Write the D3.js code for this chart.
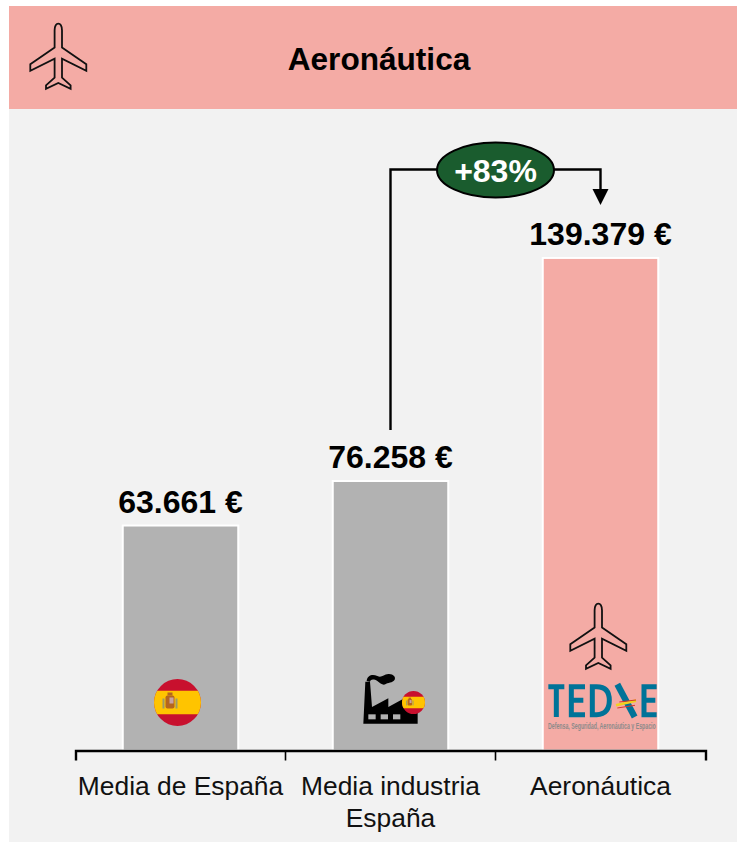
<!DOCTYPE html>
<html>
<head>
  <meta charset="utf-8">
  <title>Aeronáutica</title>
  <script src="https://d3js.org/d3.v7.min.js"></script>
  <style>
    html, body { margin: 0; padding: 0; background: #fff; }
    svg { display: block; font-family: "Liberation Sans", Arial, sans-serif; }
  </style>
</head>
<body>
  <svg id="chart"></svg>
  <script>
    var titleText = "Aeronáutica";
    var categories = ["Media de España", "Media industria España", "Aeronáutica"];
    var categoryLines = [["Media de España"], ["Media industria", "España"], ["Aeronáutica"]];
    var values = [63661, 76258, 139379];
    var valueLabels = ["63.661 €", "76.258 €", "139.379 €"];
    var barColors = ["#b2b2b2", "#b2b2b2", "#f4aba5"];
    var growthLabel = "+83%";

    var width = 737, height = 842;
    var svg = d3.select("#chart").attr("width", width).attr("height", height);

    var x = d3.scaleBand().domain(categories).range([75.5, 705.5]).paddingInner(0.45).paddingOuter(0.225);
    var y = d3.scaleLinear().domain([0, 150000]).range([750.5, 220.4]);

    // panel and header
    svg.append("rect").attr("x", 9).attr("y", 6).attr("width", width - 9).attr("height", height - 6).attr("fill", "#f2f2f2");
    svg.append("rect").attr("x", 9).attr("y", 6).attr("width", width - 9).attr("height", 103).attr("fill", "#f4aba5");
    svg.append("text").attr("x", 379).attr("y", 70).attr("text-anchor", "middle")
      .attr("font-size", 31.6).attr("font-weight", "bold").attr("fill", "#000").text(titleText);

    // bars
    svg.selectAll("rect.bar").data(values).enter().append("rect")
      .attr("class", "bar")
      .attr("x", (d, i) => x(categories[i]))
      .attr("y", d => y(d))
      .attr("width", x.bandwidth())
      .attr("height", d => y(0) - y(d))
      .attr("fill", (d, i) => barColors[i])
      .attr("stroke", "#fff")
      .attr("stroke-width", 2);

    svg.selectAll("text.value").data(values).enter().append("text")
      .attr("class", "value")
      .attr("x", (d, i) => x(categories[i]) + x.bandwidth() / 2)
      .attr("y", d => y(d) - 13)
      .attr("text-anchor", "middle")
      .attr("font-size", 32)
      .attr("font-weight", "bold")
      .attr("fill", "#000")
      .text((d, i) => valueLabels[i]);

    // axis
    var axis = svg.append("g").attr("transform", "translate(0," + y(0) + ")")
      .call(d3.axisBottom(x).tickSizeInner(0).tickSizeOuter(10).tickFormat(""));
    axis.select(".domain").attr("stroke", "#000").attr("stroke-width", 2.4);
    axis.selectAll(".tick").remove();
    axis.selectAll("line.sep").data(categories.slice(1)).enter().append("line")
      .attr("class", "sep")
      .attr("x1", d => x(d) - x.step() * x.paddingInner() / 2)
      .attr("x2", d => x(d) - x.step() * x.paddingInner() / 2)
      .attr("y1", 0).attr("y2", 10)
      .attr("stroke", "#000").attr("stroke-width", 1.6);

    var labels = svg.selectAll("text.cat").data(categories).enter().append("text")
      .attr("class", "cat")
      .attr("text-anchor", "middle")
      .attr("font-size", 26.4)
      .attr("fill", "#111");
    labels.each(function (d, i) {
      d3.select(this).selectAll("tspan").data(categoryLines[i]).enter().append("tspan")
        .attr("x", x(d) + x.bandwidth() / 2)
        .attr("y", (t, j) => 795 + j * 32)
        .text(t => t);
    });

    // connector between bar 2 and bar 3
    var x2 = x(categories[1]) + x.bandwidth() / 2;
    var x3 = x(categories[2]) + x.bandwidth() / 2;
    var connY = 169.5;
    svg.append("path")
      .attr("d", "M" + x2 + ",430V" + connY + "H" + x3 + "V190")
      .attr("fill", "none").attr("stroke", "#000").attr("stroke-width", 2.4);
    svg.append("path")
      .attr("d", "M" + (x3 - 8) + ",189L" + (x3 + 8) + ",189L" + x3 + ",205Z")
      .attr("fill", "#000");
    svg.append("ellipse")
      .attr("cx", (x2 + x3) / 2).attr("cy", 170).attr("rx", 58.5).attr("ry", 27.5)
      .attr("fill", "#1a5c2e").attr("stroke", "#000").attr("stroke-width", 2);
    svg.append("text").attr("x", (x2 + x3) / 2).attr("y", 182).attr("text-anchor", "middle")
      .attr("font-size", 32).attr("font-weight", "bold").attr("fill", "#fff").text(growthLabel);

    // icons
    function plane(cx, top) {
      var half = [[3.7, 6.7], [3.7, 24], [28, 40.7], [28, 47.3], [3.7, 35], [3.7, 54], [12.3, 61.7], [12.3, 65.3], [0, 59.3]];
      var right = half.map(p => p.join(",")).join("L");
      var left = half.slice(0, -1).reverse().map(p => (-p[0]) + "," + p[1]).join("L");
      svg.append("path")
        .attr("transform", "translate(" + cx + "," + top + ")")
        .attr("d", "M-3.7,6.7C-3.7,2 -2,0 0,0C2,0 3.7,2 3.7,6.7L" + right + "L" + left + "Z")
        .attr("fill", "none").attr("stroke", "#111").attr("stroke-width", 1.8).attr("stroke-linejoin", "miter");
    }
    plane(58.3, 23.6);
    plane(598.3, 603.6);

    var defs = svg.append("defs");
    function flag(id, cx, cy, r) {
      defs.append("clipPath").attr("id", id).append("circle").attr("cx", cx).attr("cy", cy).attr("r", r);
      var g = svg.append("g").attr("clip-path", "url(#" + id + ")");
      g.append("rect").attr("x", cx - r).attr("y", cy - r).attr("width", 2 * r).attr("height", 2 * r).attr("fill", "#c8102e");
      g.append("rect").attr("x", cx - r).attr("y", cy - r / 2).attr("width", 2 * r).attr("height", r).attr("fill", "#ffc400");
      var s = r / 23.5;
      g.append("rect").attr("x", cx - 12 * s).attr("y", cy - 7 * s).attr("width", 9 * s).attr("height", 13 * s).attr("rx", 2 * s).attr("fill", "#b5651d");
      g.append("rect").attr("x", cx - 8 * s).attr("y", cy - 5 * s).attr("width", 4 * s).attr("height", 6 * s).attr("fill", "#c8a2a2");
      g.append("rect").attr("x", cx - 15 * s).attr("y", cy - 4 * s).attr("width", 2 * s).attr("height", 10 * s).attr("fill", "#9a9a6a");
      g.append("rect").attr("x", cx - 2 * s).attr("y", cy - 4 * s).attr("width", 2 * s).attr("height", 10 * s).attr("fill", "#9a9a6a");
      g.append("rect").attr("x", cx - 10 * s).attr("y", cy - 10 * s).attr("width", 5 * s).attr("height", 3 * s).attr("fill", "#b5651d");
    }
    flag("flagA", 177.5, 702.5, 23.5);

    var factory = svg.append("g").attr("transform", "translate(350,665) scale(0.3333)");
    factory.append("path")
      .attr("d", "M40,176L46,50L60,50L66,126L115,100L115,126L163,100L163,130L203,130L203,176Z")
      .attr("fill", "#000");
    factory.append("path")
      .attr("d", "M50,48C52,30 68,26 82,33C95,40 100,28 115,27C130,26 138,36 134,44C129,54 112,52 106,58C98,62 90,54 82,48C72,42 62,42 60,50Z")
      .attr("fill", "#000");
    factory.selectAll("rect.win").data([55, 92, 129]).enter().append("rect")
      .attr("class", "win").attr("x", d => d).attr("y", 148).attr("width", 22).attr("height", 15).attr("fill", "#b2b2b2");
    flag("flagB", 413.5, 702.5, 11.5);

    // TEDAE logo
    var logo = svg.append("g").attr("transform", "translate(530,590) scale(0.3333)")
      .attr("fill", "none").attr("stroke", "#007398").attr("stroke-width", 15);
    logo.append("path").attr("d", "M55,290H103M79,290V381");
    logo.append("path").attr("d", "M165,290H124V374H165M124,331H160");
    logo.append("path").attr("d", "M187,283V374H200C228,374 238,355 238,331C238,305 226,290 200,290H187");
    logo.append("path").attr("d", "M262,283L314,381").attr("stroke-width", 19);
    logo.append("path").attr("d", "M380,290H342V374H380M342,331H376");
    logo.append("path").attr("d", "M258,346L318,332").attr("stroke", "#f0d020").attr("stroke-width", 8);
    logo.append("path").attr("d", "M268,336L318,330").attr("stroke", "#d9342b").attr("stroke-width", 3);
    logo.append("path").attr("d", "M262,354L315,346").attr("stroke", "#d9342b").attr("stroke-width", 3);

    // strapline squeezed to the logo width
    var strap = svg.append("text")
      .attr("font-size", 9.5).attr("font-weight", "bold").attr("fill", "#8c8a8a")
      .text("Defensa, Seguridad, Aeronáutica y Espacio");
    var strapScale = 108 / strap.node().getComputedTextLength();
    strap.attr("transform", "translate(548,729) scale(" + strapScale + ",1)");
  </script>
</body>
</html>
